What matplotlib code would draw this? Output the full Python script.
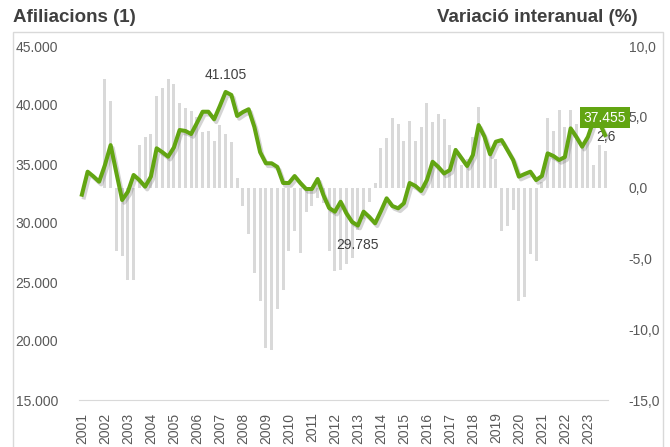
import numpy as np
import matplotlib.pyplot as plt
import matplotlib.patheffects as pe
from matplotlib.patches import Rectangle

plt.rcParams['font.family'] = ['Liberation Sans', 'DejaVu Sans']

""" Data """
# quarterly series 2001Q1 .. 2023Q4
years = list(range(2001, 2024))
afiliacions = [
    32400, 34350, 33950, 33500, 34900, 36600, 34250, 31950,   # 2001-2002
    32650, 34070, 33640, 33080, 33930, 36330, 36000, 35620,   # 2003-2004
    36400, 37880, 37800, 37540, 38470, 39430, 39430, 38790,   # 2005-2006
    39920, 41105, 40850, 39070, 39400, 39640, 38140, 36000,   # 2007-2008
    35060, 35060, 34750, 33390, 33390, 33980, 33390, 32880,   # 2009-2010
    32880, 33730, 32370, 31270, 30960, 31800, 30820, 30085,   # 2011-2012
    29785, 30960, 30510, 29975, 31000, 32090, 31440, 31245,   # 2013-2014
    31670, 33390, 33140, 32710, 33640, 35190, 34750, 34200,   # 2015-2016
    34490, 36190, 35510, 34830, 35760, 38300, 37330, 35820,   # 2017-2018
    36890, 37030, 36190, 35340, 33930, 34150, 34350, 33640,   # 2019-2020
    33980, 35900, 35680, 35340, 35590, 38020, 37290, 36470,   # 2021-2022
    37290, 38700, 38500, 37455,                               # 2023
]
variacio = [
    np.nan, np.nan, np.nan, np.nan, 7.7, 6.1, -4.5, -4.8,
    -6.5, -6.5, 3.0, 3.6, 3.8, 6.5, 7.0, 7.7,
    7.3, 6.0, 5.6, 5.4, 5.0, 3.9, 4.0, 3.3,
    4.4, 3.8, 3.2, 0.7, -1.3, -3.3, -6.0, -8.0,
    -11.3, -11.5, -8.6, -7.2, -4.5, -3.1, -4.6, -1.7,
    -1.3, -0.7, -1.1, -4.5, -5.9, -5.8, -5.4, -5.0,
    -3.0, -2.2, -1.0, 0.35, 2.8, 3.5, 4.9, 4.5,
    3.3, 4.7, 3.3, 4.3, 6.0, 4.6, 5.2, 4.85,
    3.0, 2.8, 1.6, 2.0, 3.6, 5.7, 3.5, 2.5,
    2.0, -3.1, -2.7, -1.6, -8.0, -7.7, -4.7, -5.2,
    0.4, 4.9, 4.0, 5.5, 4.3, 5.5, 4.5, 3.0,
    3.5, 1.6, 3.4, 2.6,
]

n = len(afiliacions)
x = np.arange(n)
green = '#62a512'
txt = '#404040'

fig = plt.figure(figsize=(6.7, 4.47), dpi=100)
ax = fig.add_axes([79/670, 1-400/447, (608-79)/670, (400-46)/447])
ax2 = ax.twinx()

# bars (right axis)
ax2.bar(x, variacio, width=0.52, color='#d9d9d9', zorder=1)
ax2.set_ylim(-15, 10)
ax2.set_yticks([-15, -10, -5, 0, 5, 10])
ax2.set_yticklabels(['-15,0', '-10,0', '-5,0', '0,0', '5,0', '10,0'])

# line (left axis) drawn on top
ax.set_zorder(ax2.get_zorder() + 1)
ax.patch.set_visible(False)
ax.plot(x, afiliacions, color=green, lw=2.9, solid_joinstyle='round',
        path_effects=[pe.SimpleLineShadow(offset=(1.5, -2), shadow_color='#666666', alpha=0.28),
                      pe.Normal()])
ax.set_ylim(15000, 45000)
ax.set_yticks(range(15000, 45001, 5000))
ax.set_yticklabels([f'{v//1000}.000' for v in range(15000, 45001, 5000)])
ax.set_xlim(-0.5, n - 0.5)
ax.set_xticks(x[::4])
ax.set_xticklabels([str(y) for y in years], rotation=90)

for a in (ax, ax2):
    for s in a.spines.values():
        s.set_visible(False)
    a.tick_params(length=0, labelsize=10, colors='#595959')
ax.spines['bottom'].set_visible(True)
ax.spines['bottom'].set_color('#d9d9d9')
ax.tick_params(axis='y', pad=15)
ax.tick_params(axis='x', pad=9)
ax2.tick_params(axis='y', pad=15)

# data labels
imax = int(np.argmax(afiliacions))
imin = int(np.argmin(afiliacions))
ax.annotate(f'{afiliacions[imax]/1000:.3f}', (imax, afiliacions[imax]), xytext=(0, 17),
            textcoords='offset pixels', ha='center', va='center', fontsize=10, color=txt)
ax.annotate(f'{afiliacions[imin]/1000:.3f}', (imin, afiliacions[imin]), xytext=(0, -19),
            textcoords='offset pixels', ha='center', va='center', fontsize=10, color=txt)
ax2.annotate(f'{variacio[-1]:.1f}'.replace('.', ','), (n - 1, variacio[-1]), xytext=(1, 14),
             textcoords='offset pixels', ha='center', va='center', fontsize=10, color=txt,
             bbox=dict(boxstyle='square,pad=0.1', fc='white', ec='none'), zorder=5)
ax.annotate(f'{afiliacions[-1]/1000:.3f}', (n - 1, afiliacions[-1]), xytext=(0, 17.5),
            textcoords='offset pixels', ha='center', va='center', fontsize=10, color='white',
            bbox=dict(boxstyle='square,pad=0.28', fc=green, ec='none'), zorder=6)

# titles and frame
fig.text(13/670, 1-17/447, 'Afiliacions (1)', fontsize=13.5, fontweight='bold', color=txt, va='center')
fig.text(638/670, 1-17/447, 'Variació interanual (%)', fontsize=13.5, fontweight='bold',
         color=txt, va='center', ha='right')
fig.add_artist(Rectangle((13/670, -0.05), (663-13)/670, 1.05-32/447, transform=fig.transFigure,
                         fill=False, ec='#d9d9d9', lw=1))

fig.savefig('out.png', dpi=100)
